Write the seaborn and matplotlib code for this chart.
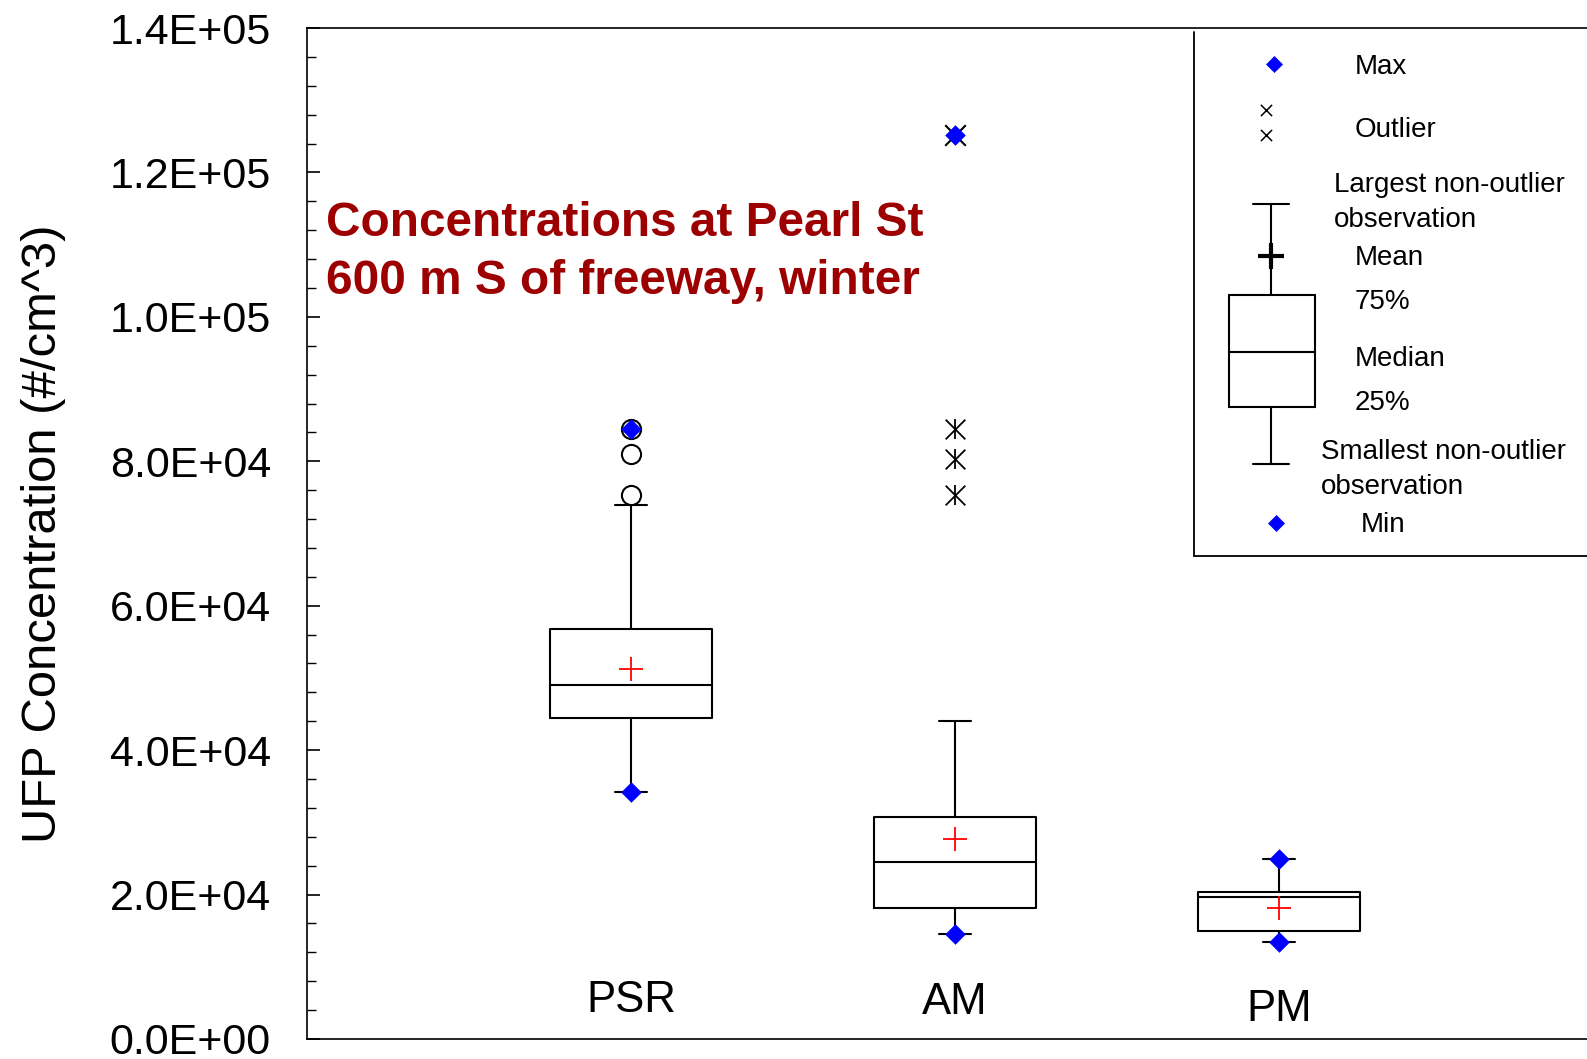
import matplotlib.pyplot as plt
import numpy as np
import pandas as pd
import seaborn as sns
from matplotlib.ticker import FuncFormatter, MultipleLocator

# summary statistics (UFP, #/cm^3)
GROUPS = ["PSR", "AM", "PM"]
Q1 = [44400, 18200, 15000]
MEDIAN = [49000, 24500, 19600]
Q3 = [56800, 30700, 20300]
MEAN = [51300, 27700, 18200]
WHISK_LO = [34200, 14600, 13400]
WHISK_HI = [74000, 44100, 24900]
MIN_VAL = [34200, 14600, 13400]
MAX_VAL = [84500, 125200, 24900]
PSR_OUTLIERS = [75400, 81000, 84500]
AM_OUTLIERS = [75400, 80300, 84500]
AM_EXTREME = [125200]

TITLE = "Concentrations at Pearl St\n600 m S of freeway, winter"
DARK_RED = "#9c0000"
BLUE = "#0000ff"

sns.set_theme(style="white")
plt.rcParams["font.family"] = ["Liberation Sans", "DejaVu Sans"]
plt.rcParams["text.color"] = "black"
plt.rcParams["axes.labelcolor"] = "black"
plt.rcParams["ytick.color"] = "black"

fig = plt.figure(figsize=(15.87, 10.59), dpi=100)
ax = fig.add_axes([307 / 1587, 20 / 1059, 1280 / 1587, 1011 / 1059])

pos = list(range(len(GROUPS)))
stats = [
    dict(med=m, q1=a, q3=b, whislo=lo, whishi=hi, fliers=[], mean=mn, label=g)
    for g, a, m, b, lo, hi, mn in zip(GROUPS, Q1, MEDIAN, Q3, WHISK_LO, WHISK_HI, MEAN)
]
line = dict(color="black", linewidth=1.5)
ax.bxp(stats, positions=pos, widths=0.5, capwidths=0.1, showfliers=False,
       boxprops=line, whiskerprops=line, capprops=line, medianprops=line)

# outliers
psr_out = pd.DataFrame({"x": 0, "y": PSR_OUTLIERS})
am_out = pd.DataFrame({"x": 1, "y": AM_OUTLIERS})
am_ext = pd.DataFrame({"x": 1, "y": AM_EXTREME})
sns.scatterplot(data=psr_out, x="x", y="y", ax=ax, marker="o", s=190,
                facecolor="white", edgecolor="black", linewidth=1.5, zorder=3)
# asterisk = x with a vertical bar through it
sns.scatterplot(data=am_out, x="x", y="y", ax=ax, marker="x", s=200,
                color="black", linewidth=1.3, zorder=3)
sns.scatterplot(data=am_out, x="x", y="y", ax=ax, marker="|", s=200,
                color="black", linewidth=1.3, zorder=3)
sns.scatterplot(data=am_ext, x="x", y="y", ax=ax, marker="x", s=220,
                color="black", linewidth=1.5, zorder=3)

# min / max diamonds and means
ext = pd.DataFrame({"x": pos * 2, "y": MIN_VAL + MAX_VAL})
sns.scatterplot(data=ext, x="x", y="y", ax=ax, marker="D", s=110,
                color=BLUE, edgecolor=BLUE, linewidth=0, zorder=4)
means = pd.DataFrame({"x": pos, "y": MEAN})
sns.scatterplot(data=means, x="x", y="y", ax=ax, marker="+", s=300,
                color="red", linewidth=1.3, zorder=4)

# category names inside the plot
for p, g, yy in zip(pos, GROUPS, [5350, 5100, 4100]):
    ax.text(p, yy, g, ha="center", va="center", fontsize=31.5)

ax.text(-0.94, 108950, TITLE, color=DARK_RED, fontsize=34.4, fontweight="bold",
        ha="left", va="center", linespacing=1.38)

# schematic legend box
lx = 1.7375
ax.plot([lx, lx], [139400, 66850], color="black", linewidth=1.3)
ax.plot([lx, 2.95], [66850, 66850], color="black", linewidth=1.3, clip_on=False)
cx = 1.975
ax.scatter([1.984], [134960], marker="D", s=75, color=BLUE, linewidth=0)
ax.scatter([1.99], [71480], marker="D", s=75, color=BLUE, linewidth=0)
ax.scatter([1.959, 1.959], [128660, 125150], marker="x", s=65, color="black", linewidth=1.1)
ax.plot([cx, cx], [115630, 103010], color="black", linewidth=1.5)
ax.plot([cx - 0.055, cx + 0.055], [115630, 115630], color="black", linewidth=1.5)
ax.plot([cx, cx], [87450, 79610], color="black", linewidth=1.5)
ax.plot([cx - 0.055, cx + 0.055], [79610, 79610], color="black", linewidth=1.5)
ax.add_patch(plt.Rectangle((1.844, 87450), 0.266, 103010 - 87450, fill=False,
                           edgecolor="black", linewidth=1.5))
ax.plot([1.844, 2.11], [95160, 95160], color="black", linewidth=1.5)
ax.scatter([cx], [108480], marker="+", s=330, color="black", linewidth=3)
leg_fs = 20
dy = -420
ax.text(2.234, 134960 + dy, "Max", fontsize=leg_fs, va="center")
ax.text(2.234, 126280 + dy, "Outlier", fontsize=leg_fs, va="center")
ax.text(2.169, 116300 + dy, "Largest non-outlier\nobservation", fontsize=leg_fs, va="center",
        linespacing=1.45)
ax.text(2.234, 108620 + dy, "Mean", fontsize=leg_fs, va="center")
ax.text(2.234, 102450 + dy, "75%", fontsize=leg_fs, va="center")
ax.text(2.234, 94600 + dy, "Median", fontsize=leg_fs, va="center")
ax.text(2.234, 88440 + dy, "25%", fontsize=leg_fs, va="center")
ax.text(2.128, 79250 + dy, "Smallest non-outlier\nobservation", fontsize=leg_fs, va="center",
        linespacing=1.45)
ax.text(2.253, 71620 + dy, "Min", fontsize=leg_fs, va="center")

# axes
ax.set_xlim(-1, 2.95)
ax.set_ylim(0, 140000)
ax.set_xticks([])
ax.set_yticks(np.arange(0, 140001, 20000))
ax.yaxis.set_minor_locator(MultipleLocator(4000))
ax.yaxis.set_major_formatter(FuncFormatter(lambda v, _: f"{v:.1E}"))
ax.tick_params(axis="y", which="major", direction="in", length=9, width=1.2,
               labelsize=31, pad=26, left=True, color="black")
ax.tick_params(axis="y", which="minor", direction="in", length=6.5, width=1.0,
               left=True, color="black")
ax.set_xlabel("")
ax.set_ylabel("UFP Concentration (#/cm^3)", fontsize=35.3)
ax.yaxis.set_label_coords(-0.188, 0.5)
ax.spines["right"].set_visible(False)
for s in ["left", "top", "bottom"]:
    ax.spines[s].set_color("black")
    ax.spines[s].set_linewidth(1.2)

fig.savefig("out.png", dpi=100)
